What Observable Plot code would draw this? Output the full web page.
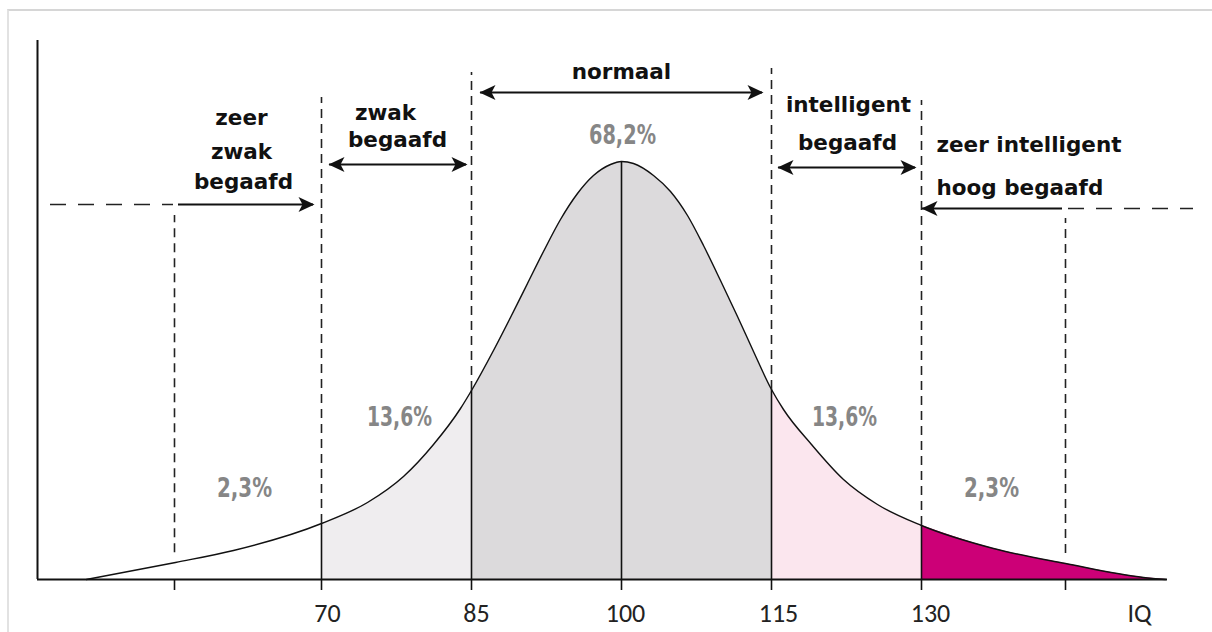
<!DOCTYPE html>
<html>
<head>
<meta charset="utf-8">
<script src="https://cdn.jsdelivr.net/npm/d3@7"></script>
<script src="https://cdn.jsdelivr.net/npm/@observablehq/plot@0.6"></script>
<style>
  html, body { margin: 0; padding: 0; background: #fff; }
  #wrap { position: relative; width: 1212px; height: 632px; overflow: hidden; }
  #frame { position: absolute; left: 7px; top: 9px; right: -2px; bottom: -2px;
           border-top: 2px solid #d6d6d6; border-left: 2px solid #e2e2e2; pointer-events: none; }
  svg { position: absolute; left: 0; top: 0; }
</style>
</head>
<body>
<div id="wrap"><div id="frame"></div></div>
<script>
// ---- curve (IQ vs relative frequency) ----
const iq   = [46.5, 55.4, 61.2, 70, 74.6, 78.2, 81.2, 83.9, 85, 87.2, 88.9, 90.6, 92.2, 93.9, 95.6, 97.2, 98.9, 100,
              101.2, 103.2, 104.9, 106.6, 108.2, 109.9, 111.6, 113.2, 115, 116.2, 119, 122.2, 125.6, 130, 137.2, 144.4, 152.2, 154.4];
const freq = [0, 17, 29, 56, 77, 103, 135, 171, 189, 229, 262, 296, 328, 360, 386, 404, 415, 418,
              416, 404, 388, 364, 334, 299, 263, 228, 190, 170, 135, 100, 75, 54, 31, 16, 2, 0];

// ---- bands ----
const bandFrom   = [70, 85, 115, 130];
const bandTo     = [85, 115, 130, 154.4];
const bandColors = ["#efedef", "#dcdadc", "#fbe6ee", "#cc0077"];

// ---- axis ----
const boundaries   = [70, 85, 100, 115, 130];
const minorTicks   = [55.3, 144.4];
const tickLabels   = ["70", "85", "100", "115", "130", "IQ"];
const tickLabelX   = [70.6, 85.5, 100.4, 115.7, 130.9, 151.8];

// ---- dashed guides ----
const dashX    = [55.3, 70, 85, 115, 130, 144.4];
const dashTop  = [364, 482, 507, 511, 479, 361];

// ---- category labels ----
const catText = ["zeer", "zwak", "begaafd", "zwak", "begaafd", "normaal", "intelligent", "begaafd"];
const catX    = [62.0, 62.0, 62.2, 76.4, 77.6, 100, 122.7, 122.6];
const catY    = [461, 427, 397, 466, 439, 507, 474, 436];
const catLeftText = ["zeer intelligent", "hoog begaafd"];
const catLeftX    = [131.5, 131.5];
const catLeftY    = [434, 391];

// ---- percentages ----
const pctText = ["2,3%", "13,6%", "68,2%", "13,6%", "2,3%"];
const pctX    = [62.3, 77.8, 100.1, 122.3, 137.0];
const pctY    = [91, 162, 444, 162, 91];

// ---- arrows ----
const arrowY  = [415, 487, 412, 375, 371];
const arrowX1 = [70.8, 85.9, 115.7, 55.7, 130.1];
const arrowX2 = [84.5, 114.1, 129.4, 69.2, 144.1];
const headRight = [true, true, true, true, false];
const headLeft  = [true, true, true, false, true];
const dashArrowY  = [375, 371];
const dashArrowX1 = [42.9, 144.7];
const dashArrowX2 = [55.2, 157.2];

// ---- build tables ----
const curve = iq.map((x, i) => ({iq: x, freq: freq[i]}));
const fAt = x => { const d = curve.find(c => Math.abs(c.iq - x) < 1e-9); if (d) return d.freq;
  const j = curve.findIndex(c => c.iq > x); const a = curve[j-1], b = curve[j];
  return a.freq + (b.freq - a.freq) * (x - a.iq) / (b.iq - a.iq); };
const bands = bandFrom.map((a, i) => ({data: curve.filter(d => d.iq >= a - 1e-9 && d.iq <= bandTo[i] + 1e-9), color: bandColors[i]}));
const solidV = boundaries.map(x => ({x, top: fAt(x)}));
const dashes = dashX.map((x, i) => ({x, top: dashTop[i], bottom: fAt(x) + (minorTicks.includes(x) ? 10 : 0)}));
const cats = catText.map((t, i) => ({t, x: catX[i], y: catY[i]}));
const catsLeft = catLeftText.map((t, i) => ({t, x: catLeftX[i], y: catLeftY[i]}));
const pcts = pctText.map((t, i) => ({t, x: pctX[i], y: pctY[i]}));
const arrows = arrowY.map((y, i) => ({y, x1: arrowX1[i], x2: arrowX2[i]}));
const headsR = arrows.filter((d, i) => headRight[i]).map(d => ({x: d.x2, y: d.y}));
const headsL = arrows.filter((d, i) => headLeft[i]).map(d => ({x: d.x1, y: d.y}));
const dashArrows = dashArrowY.map((y, i) => ({y, x1: dashArrowX1[i], x2: dashArrowX2[i]}));
const ticks = tickLabels.map((t, i) => ({t, x: tickLabelX[i]}));

const triRight = {draw(ctx) { ctx.moveTo(1, 0); ctx.lineTo(-15, -7.5); ctx.lineTo(-11, 0); ctx.lineTo(-15, 7.5); ctx.closePath(); }};
const triLeft  = {draw(ctx) { ctx.moveTo(-1, 0); ctx.lineTo(15, -7.5); ctx.lineTo(11, 0); ctx.lineTo(15, 7.5); ctx.closePath(); }};

const boldFont = "'DejaVu Sans', Verdana, sans-serif";

const chart = Plot.plot({
  width: 1212, height: 632,
  margin: 0,
  style: {background: "transparent", overflow: "visible"},
  x: {domain: [37.9, 159.1], axis: null},
  y: {domain: [-53, 579], axis: null},
  marks: [
    ...bands.map(b => Plot.areaY(b.data, {x: "iq", y: "freq", fill: b.color, curve: "monotone-x"})),
    Plot.line(curve, {x: "iq", y: "freq", stroke: "#111", strokeWidth: 1.4, curve: "monotone-x"}),
    // dashed guides
    Plot.ruleX(dashes, {x: "x", y1: "bottom", y2: "top", stroke: "#222", strokeWidth: 1.6, strokeDasharray: "9,6"}),
    // solid boundaries
    Plot.ruleX(solidV, {x: "x", y1: -11, y2: "top", stroke: "#111", strokeWidth: 1.6}),
    Plot.ruleX(minorTicks, {x: d => d, y1: -11, y2: 0, stroke: "#111", strokeWidth: 1.6}),
    // axes lines
    Plot.ruleY([0], {x1: 41.6, x2: 154.6, stroke: "#111", strokeWidth: 2}),
    Plot.ruleX([41.6], {y1: 0, y2: 539, stroke: "#111", strokeWidth: 2}),
    // arrows
    Plot.ruleY(arrows, {y: "y", x1: "x1", x2: "x2", stroke: "#111", strokeWidth: 2}),
    Plot.ruleY(dashArrows, {y: "y", x1: "x1", x2: "x2", stroke: "#222", strokeWidth: 1.6, strokeDasharray: "16,12"}),
    Plot.dot(headsR, {x: "x", y: "y", symbol: triRight, fill: "#111", stroke: "none"}),
    Plot.dot(headsL, {x: "x", y: "y", symbol: triLeft, fill: "#111", stroke: "none"}),
    // category labels
    Plot.text(cats, {x: "x", y: "y", text: "t", textAnchor: "middle", lineAnchor: "middle",
      fontFamily: boldFont, fontWeight: "bold", fontSize: 21.5, fill: "#111"}),
    Plot.text(catsLeft, {x: "x", y: "y", text: "t", textAnchor: "start", lineAnchor: "middle",
      fontFamily: boldFont, fontWeight: "bold", fontSize: 21.5, fill: "#111"}),
    // percentages
    Plot.text(pcts, {x: "x", y: "y", text: "t", lineAnchor: "middle",
      fontFamily: "'Liberation Sans Narrow', 'DejaVu Sans Condensed', 'Arial Narrow', sans-serif",
      fontWeight: "bold", fontSize: 26, fill: "#868686"}),
    // tick labels
    Plot.text(ticks, {x: "x", y: -34, text: "t", lineAnchor: "middle",
      fontFamily: "Carlito, Lato, 'Open Sans', sans-serif", fontSize: 26, fill: "#222"})
  ]
});
// squeeze the narrow percentage labels to the widths seen in the picture
const pctWidth = {"2,3%": 55, "13,6%": 65, "68,2%": 67};
chart.querySelectorAll("text").forEach(t => {
  const s = t.textContent;
  if (pctWidth[s]) { t.setAttribute("textLength", pctWidth[s]); t.setAttribute("lengthAdjust", "spacingAndGlyphs"); }
});
document.getElementById("wrap").appendChild(chart);
</script>
</body>
</html>
